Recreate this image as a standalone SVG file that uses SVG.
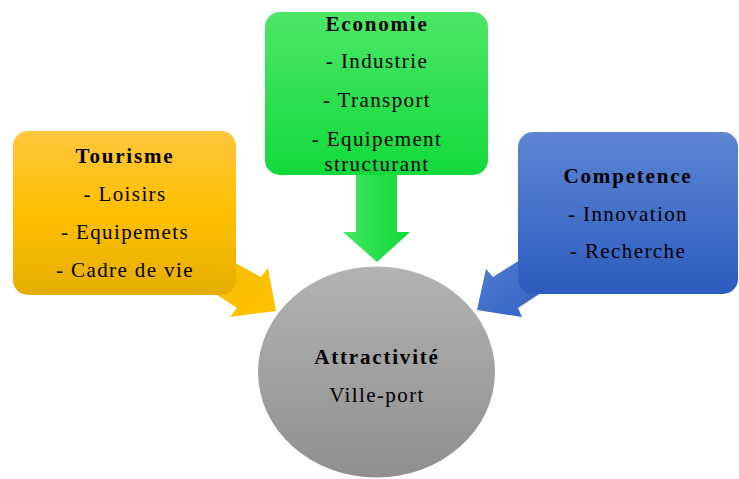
<svg xmlns="http://www.w3.org/2000/svg" width="739" height="479" viewBox="0 0 739 479">
<defs>
<linearGradient id="gY" x1="0" y1="0" x2="0" y2="1"><stop offset="0" stop-color="#FEC63E"/><stop offset="0.5" stop-color="#FFC000"/><stop offset="1" stop-color="#E4AD00"/></linearGradient>
<linearGradient id="gG" x1="0" y1="0" x2="0" y2="1"><stop offset="0" stop-color="#4DE667"/><stop offset="1" stop-color="#12DA3B"/></linearGradient>
<linearGradient id="gB" x1="0" y1="0" x2="0" y2="1"><stop offset="0" stop-color="#5C86D3"/><stop offset="1" stop-color="#2D5CC0"/></linearGradient>
<linearGradient id="gC" x1="0" y1="0" x2="0" y2="1"><stop offset="0" stop-color="#B3B3B3"/><stop offset="1" stop-color="#8F8F8F"/></linearGradient>
<linearGradient id="gGA" x1="0" y1="0" x2="1" y2="0"><stop offset="0" stop-color="#42E862"/><stop offset="1" stop-color="#10D838"/></linearGradient>
<linearGradient id="gYA" x1="0" y1="0" x2="1" y2="1"><stop offset="0" stop-color="#F2B800"/><stop offset="1" stop-color="#FFC300"/></linearGradient>
<linearGradient id="gBA" x1="0" y1="0" x2="1" y2="1"><stop offset="0" stop-color="#5582D2"/><stop offset="1" stop-color="#2E5DC1"/></linearGradient>
</defs>
<style>
text{font-family:"Liberation Serif","Times New Roman",serif;font-size:21px;fill:#000;text-anchor:middle;letter-spacing:1.4px}
.b{font-weight:bold;letter-spacing:1.8px}
</style>
<rect width="739" height="479" fill="#fff"/>
<g id="connectors">
<polygon points="200,244 261,277 268,268 276,311 230,317 237,308 190,277" fill="url(#gYA)"/>
<polygon points="356,170 397,170 397,232 410,232 377,262 343,232 356,232" fill="url(#gGA)"/>
<polygon points="555,238 493,277 486,269 477,310 522,317 518,308 565,277" fill="url(#gBA)"/>
</g>
<g id="tourisme">
<rect x="13" y="131" width="223" height="164" rx="15" fill="url(#gY)"/>
<text x="125" y="163" class="b">Tourisme</text>
<text x="125" y="201">- Loisirs</text>
<text x="125" y="239">- Equipemets</text>
<text x="125" y="277">- Cadre de vie</text>
</g>
<g id="economie">
<rect x="265" y="12" width="223" height="163" rx="15" fill="url(#gG)"/>
<text x="377" y="31" class="b">Economie</text>
<text x="377" y="68">- Industrie</text>
<text x="377" y="107">- Transport</text>
<text x="377" y="146">- Equipement</text>
<text x="377" y="171">structurant</text>
</g>
<g id="competence">
<rect x="518" y="132" width="220" height="162" rx="15" fill="url(#gB)"/>
<text x="628" y="183" class="b">Competence</text>
<text x="628" y="221">- Innovation</text>
<text x="628" y="258">- Recherche</text>
</g>
<g id="attractivite">
<ellipse cx="376.5" cy="372" rx="118.5" ry="105.5" fill="url(#gC)"/>
<text x="377" y="364" class="b">Attractivité</text>
<text x="377" y="402">Ville-port</text>
</g>
</svg>
